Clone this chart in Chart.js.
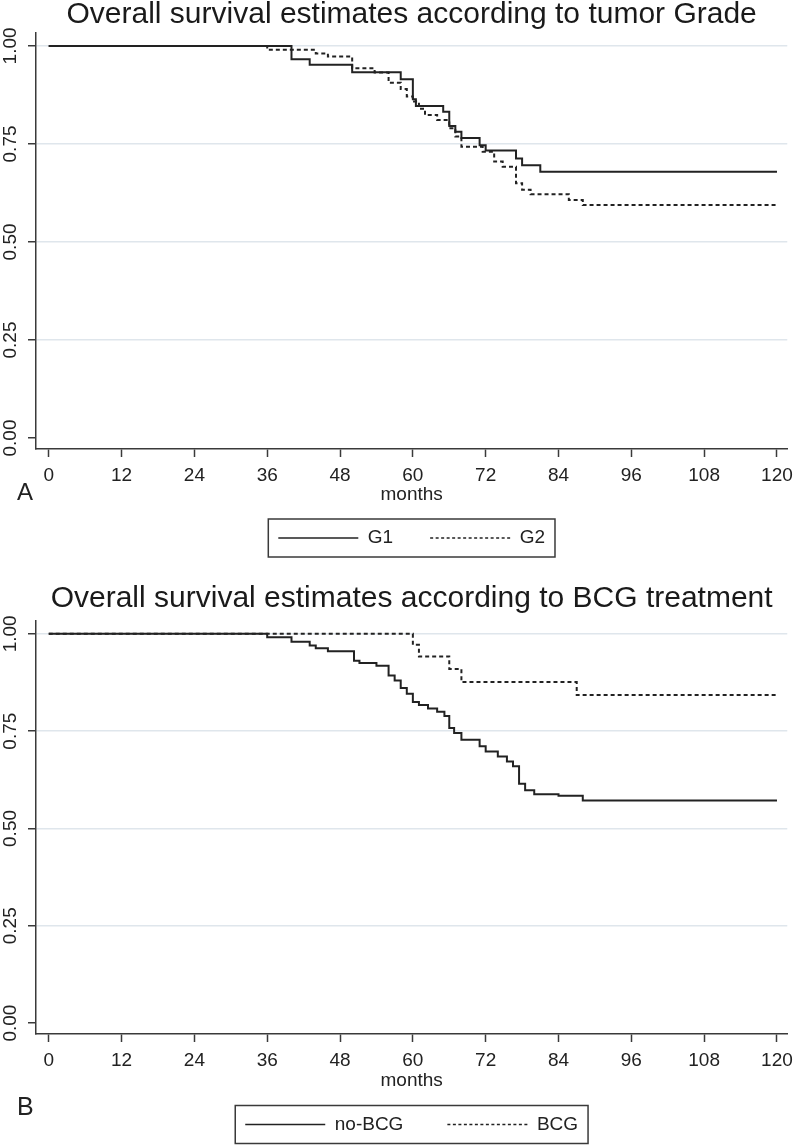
<!DOCTYPE html>
<html lang="en">
<head>
<meta charset="UTF-8">
<title>Overall survival estimates</title>
<script src="https://cdn.jsdelivr.net/npm/chart.js"></script>
<style>
    body {
        margin: 0;
        width: 800px;
        height: 1145px;
        position: relative;
        overflow: hidden;
        background: #fff;
        font-family: "Liberation Sans", Arial, sans-serif;
        color: #222;
    }
    .panel { position: absolute; left: 0; width: 800px; }
    #panelA { top: 0; height: 575px; }
    #panelB { top: 575px; height: 570px; }
    .tag { position: absolute; left: 17px; font-size: 24px; line-height: 24px; }
</style>
</head>
<body>

<div class="panel" id="panelA"><canvas id="chartA" width="800" height="575"></canvas></div>
<div class="panel" id="panelB"><canvas id="chartB" width="800" height="570"></canvas></div>
<div class="tag" style="top:480px">A</div>
<div class="tag" style="top:1094px; font-size:25px; line-height:25px">B</div>

<script>
    // axis ticks
    const monthTicks = [0, 12, 24, 36, 48, 60, 72, 84, 96, 108, 120];
    const survTicks = [0, 0.25, 0.5, 0.75, 1];

    // Kaplan-Meier steps: month of each drop and the estimate after it
    const g1Months = [0, 40, 43, 50, 58, 60, 60.5, 65, 66, 67, 68, 71, 72, 77, 78, 81, 120];
    const g1Surv = [1, 0.966, 0.952, 0.933, 0.915, 0.864, 0.847, 0.832, 0.796, 0.781, 0.765, 0.747, 0.733, 0.713, 0.696, 0.679, 0.679];

    const g2Months = [0, 36, 44, 46, 50, 53.7, 56, 58, 59, 60, 61, 62, 64, 66, 67, 68, 71.5, 73.4, 74.8, 77, 78, 79.4, 85.7, 88, 120];
    const g2Surv = [1, 0.99, 0.981, 0.973, 0.943, 0.932, 0.906, 0.89, 0.871, 0.858, 0.84, 0.824, 0.811, 0.79, 0.769, 0.743, 0.73, 0.705, 0.692, 0.65, 0.633, 0.622, 0.607, 0.594, 0.594];

    const noBcgMonths = [0, 36, 40, 43, 44, 46, 50.3, 51.2, 54, 56, 57, 58, 59, 60, 61, 62.5, 64, 65.2, 66, 66.8, 68, 71, 72, 74, 75.5, 76.5, 77.5, 78.5, 80, 84, 88, 120];
    const noBcgSurv = [1, 0.991, 0.98, 0.97, 0.963, 0.955, 0.931, 0.925, 0.918, 0.893, 0.88, 0.861, 0.846, 0.825, 0.817, 0.808, 0.8, 0.789, 0.758, 0.745, 0.728, 0.711, 0.698, 0.685, 0.672, 0.66, 0.615, 0.598, 0.588, 0.584, 0.572, 0.572];

    const bcgMonths = [0, 60, 61, 66, 68, 87, 120];
    const bcgSurv = [1, 0.972, 0.942, 0.91, 0.876, 0.843, 0.843];

    const axisColor = "#3a3a3a";
    const gridColor = "#dfe6ec";

    Chart.defaults.font.family = '"Liberation Sans", Arial, sans-serif';
    Chart.defaults.color = "#222";
    Chart.defaults.animation = false;

    // frame round the legend items, like the stata legend box
    const legendFrame = {
        id: "legendFrame",
        afterDraw(chart, args, opts) {
            const boxes = chart.legend && chart.legend.legendHitBoxes;
            if (!boxes || !boxes.length) return;
            const left = Math.min(...boxes.map(b => b.left)) - opts.padX;
            const right = Math.max(...boxes.map(b => b.left + b.width)) + opts.padX;
            const top = boxes[0].top - opts.padY;
            const bottom = boxes[0].top + boxes[0].height + opts.padY;
            const ctx = chart.ctx;
            ctx.save();
            ctx.strokeStyle = axisColor;
            ctx.lineWidth = 1.5;
            ctx.strokeRect(left, top, right - left, bottom - top);
            ctx.restore();
        }
    };

    function toPoints(months, surv) {
        return months.map((m, i) => ({ x: m, y: surv[i] }));
    }

    // point style legends lose the dataset dash, so put it back
    function legendLabels(chart) {
        return Chart.defaults.plugins.legend.labels.generateLabels(chart).map(item => {
            const ds = chart.data.datasets[item.datasetIndex];
            item.lineDash = ds.borderDash && ds.borderDash.length ? [3, 2.5] : [];
            item.lineWidth = 1.5;
            return item;
        });
    }

    function drawPanel(canvasId, title, series, L) {
        new Chart(document.getElementById(canvasId), {
            type: "line",
            data: {
                datasets: series.map(s => ({
                    label: s.label,
                    data: toPoints(s.months, s.surv),
                    stepped: "before",
                    borderColor: "#222",
                    backgroundColor: "#222",
                    borderWidth: 2,
                    borderDash: s.dashed ? [4, 3] : [],
                    pointRadius: 0,
                    fill: false
                }))
            },
            options: {
                responsive: false,
                layout: { padding: { top: 0, right: 9, bottom: L.padBottom, left: 0 } },
                plugins: {
                    title: {
                        display: true,
                        text: title,
                        fullSize: false,
                        color: "#1a1a1a",
                        font: { size: 30, weight: "normal", lineHeight: 1 },
                        padding: { top: L.titleTop, bottom: L.titleBottom }
                    },
                    legend: {
                        position: "bottom",
                        fullSize: false,
                        labels: {
                            usePointStyle: true,
                            pointStyle: "line",
                            pointStyleWidth: 80,
                            padding: L.legendPad,
                            font: { size: 19 },
                            color: "#222",
                            generateLabels: legendLabels
                        }
                    },
                    tooltip: { enabled: false },
                    legendFrame: { padX: 10, padY: 9.5 }
                },
                scales: {
                    x: {
                        type: "linear",
                        min: -2.1,
                        max: 121.7,
                        afterBuildTicks: s => { s.ticks = monthTicks.map(v => ({ value: v })); },
                        afterFit: s => { s.height = L.xHeight; },
                        grid: { drawOnChartArea: false, drawTicks: true, tickLength: 8, tickColor: axisColor, tickWidth: 1.5 },
                        border: { display: true, color: axisColor, width: 1.5 },
                        ticks: { font: { size: 19 }, padding: 7, color: "#222", autoSkip: false, maxRotation: 0 },
                        title: { display: true, text: "months", color: "#222", font: { size: 19 }, padding: { top: 0, bottom: L.xTitlePad } }
                    },
                    y: {
                        type: "linear",
                        min: -0.028,
                        max: 1.033,
                        afterBuildTicks: s => { s.ticks = survTicks.map(v => ({ value: v })); },
                        afterFit: s => { s.width = 36; },
                        grid: {
                            color: c => (c.tick && c.tick.value === 0) ? "rgba(0,0,0,0)" : gridColor,
                            lineWidth: 1.5,
                            tickLength: 8,
                            tickColor: axisColor,
                            tickWidth: 1.5
                        },
                        border: { display: true, color: axisColor, width: 1.5 },
                        ticks: {
                            font: { size: 19 },
                            color: "#222",
                            minRotation: 90,
                            maxRotation: 90,
                            crossAlign: "center",
                            padding: -1,
                            autoSkip: false,
                            callback: v => Number(v).toFixed(2)
                        }
                    }
                }
            },
            plugins: [legendFrame]
        });
    }

    drawPanel("chartA", "Overall survival estimates according to tumor Grade", [
        { label: "G1", months: g1Months, surv: g1Surv, dashed: false },
        { label: "G2", months: g2Months, surv: g2Surv, dashed: true }
    ], { titleTop: 0, titleBottom: 3, legendPad: 37, xHeight: 42.5, xTitlePad: -14.9, padBottom: 17.5 });

    drawPanel("chartB", "Overall survival estimates according to BCG treatment", [
        { label: "no-BCG", months: noBcgMonths, surv: noBcgSurv, dashed: false },
        { label: "BCG", months: bcgMonths, surv: bcgSurv, dashed: true }
    ], { titleTop: 8.6, titleBottom: 7.4, legendPad: 44, xHeight: 37, xTitlePad: -20.9, padBottom: 1 });
</script>

</body>
</html>
